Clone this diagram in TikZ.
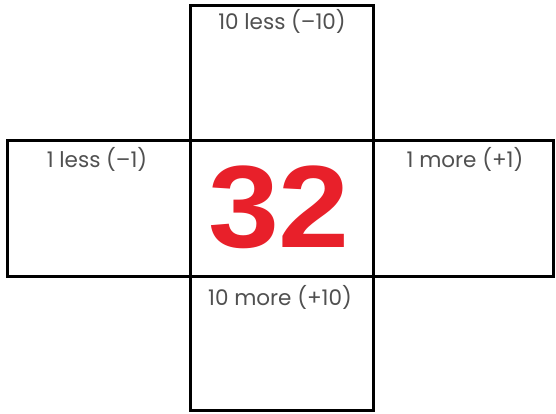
\documentclass[tikz,border=0pt]{standalone}
\usepackage{fontspec}
\setmainfont{Poppins}
\newfontfamily\numfont{Liberation Sans}
\definecolor{labelgrey}{HTML}{505050}
\definecolor{numred}{HTML}{E8202A}
\tikzset{
  cell/.style={draw=black, line width=3pt, inner sep=0pt, outer sep=0pt, minimum height=135pt},
  lbl/.style={text=labelgrey, font=\fontsize{21.5}{22}\selectfont, inner sep=0pt, anchor=center}
}
\begin{document}
\begin{tikzpicture}[x=1pt,y=-1pt]
\useasboundingbox (0,0) rectangle (556,414);
\fill[white] (0,0) rectangle (556,414);
\node[cell, minimum width=183pt] (top) at (281.5,73.5) {};
\node[cell, minimum width=183pt] (left) at (98.5,208.5) {};
\node[cell, minimum width=183pt] (mid) at (281.5,208.5) {};
\node[cell, minimum width=180pt] (right) at (463,208.5) {};
\node[cell, minimum width=183pt, minimum height=134pt] (bottom) at (281.5,343) {};
\node[lbl] (tl) at (282,21) {10 less (–10)};
\node[lbl] (ll) at (97,159) {1 less (–1)};
\node[lbl] (rl) at (465,159) {1 more (+1)};
\node[lbl] (bl) at (280,297) {10 more (+10)};
\node[text=numred, inner sep=0pt, xscale=1.09, font=\numfont\bfseries\fontsize{117}{117}\selectfont] (num) at (279,207) {32};
\end{tikzpicture}
\end{document}
